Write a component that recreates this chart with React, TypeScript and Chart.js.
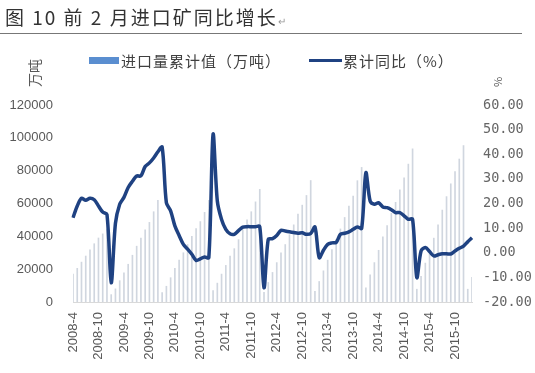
import React, { useEffect, useRef } from "react";
import { Chart, registerables } from "chart.js";

Chart.register(...registerables);

// Categories: monthly, 2008-4 .. 2016-2
const startYear = 2008;
const startMonth = 4;
const monthCount = 95;
const categories: string[] = [];
for (let i = 0; i < monthCount; i++) {
  const m = startMonth - 1 + i;
  categories.push(`${startYear + Math.floor(m / 12)}-${(m % 12) + 1}`);
}
const labelEvery = 6;

// 进口量累计值（万吨）
const importCum = [
  17000, 20500, 24300, 28000, 31800, 35500, 39000, 41500, 44400,
  4500, 8000, 13000, 17800, 23000, 28500, 34000, 39000, 44000, 48500, 55000, 62000,
  5800, 9600, 14800, 20500, 25500, 30000, 35000, 40000, 44700, 49000, 54600, 61900,
  6900, 11500, 17000, 22300, 28000, 32500, 38000, 44000, 50000, 55000, 61000, 68600,
  5900, 11900, 18000, 24000, 30000, 35000, 41000, 47000, 53500, 59000, 64900, 74000,
  6500, 12500, 19000, 25500, 32000, 38000, 44500, 51500, 58400, 64500, 73900, 82000,
  8600, 16500, 24000, 31500, 39700, 46600, 54000, 60700, 68300, 75600, 84000, 93300,
  7800, 15700, 23700, 31000, 38900, 47000, 56000, 64200, 72000, 79500, 87100, 95300,
  7800, 15100,
];

// 累计同比（%）
const yoyCum = [
  14.2, 19.0, 22.1, 21.3, 22.1, 21.5, 19.0, 16.5, 15.6,
  -12.2, 12.0, 19.7, 22.5, 26.5, 29.0, 31.2, 31.2, 35.0, 36.5, 38.5, 41.0,
  42.9, 20.3, 17.0, 10.9, 7.0, 3.4, 1.5, -0.6, -3.1, -2.5, -1.7, -2.0,
  48.1, 21.0, 13.5, 9.5, 7.7, 7.5, 9.0, 10.4, 10.6, 10.6, 10.6, 10.6,
  -14.2, 5.5, 5.7, 7.0, 9.1, 8.8, 8.5, 8.2, 7.9, 8.1, 7.5, 7.8,
  10.5, -2.0, 1.0, 3.4, 4.0, 4.2, 7.5, 7.9, 8.5, 9.5, 10.5, 9.9,
  32.5, 21.0, 19.7, 20.3, 18.6, 18.3, 17.5, 16.3, 16.3, 15.0, 13.6, 13.6,
  -10.1, 0.7, 2.1, 0.5, -1.3, -0.8, -0.4, -0.4, -0.5, 0.7, 1.8, 2.7, 4.5, 6.1,
];

const leftTicks = { min: 0, max: 120000, step: 20000 };
const rightTicks = { min: -20, max: 60, step: 10 };

const cjk = '"Noto Sans CJK SC", "Noto Sans", sans-serif';

export default function App() {
  const ref = useRef<HTMLCanvasElement | null>(null);

  useEffect(() => {
    document.body.style.margin = "0";
    if (!ref.current) return;
    const chart = new Chart(ref.current, {
      type: "bar",
      data: {
        labels: categories,
        datasets: [
          {
            type: "line",
            label: "累计同比（%）",
            data: yoyCum,
            yAxisID: "y1",
            borderColor: "#1f4282",
            borderWidth: 3.5,
            pointRadius: 0,
            tension: 0.3,
            order: 1,
          },
          {
            type: "bar",
            label: "进口量累计值（万吨）",
            data: importCum,
            yAxisID: "y",
            backgroundColor: "#d0d6df",
            barThickness: 1,
            order: 2,
          },
        ],
      },
      options: {
        responsive: false,
        animation: false,
        layout: { padding: { top: 105, left: 0, right: 0, bottom: 0 } },
        plugins: { legend: { display: false }, title: { display: false }, tooltip: { enabled: false } },
        scales: {
          x: {
            offset: false,
            grid: { display: false, drawTicks: false },
            border: { display: true, color: "#d9d9d9" },
            ticks: {
              autoSkip: false,
              minRotation: 90,
              maxRotation: 90,
              padding: 10,
              color: "#595959",
              font: { family: '"Liberation Sans", Arial, sans-serif', size: 13 },
              callback: (_v: any, i: number) => (i % labelEvery === 0 ? categories[i] : ""),
            },
            afterFit: (s: any) => {
              s.height = 71;
            },
          },
          y: {
            position: "left",
            min: leftTicks.min,
            max: leftTicks.max,
            grid: { display: false, drawTicks: false },
            border: { display: false },
            ticks: {
              stepSize: leftTicks.step,
              padding: 20,
              color: "#595959",
              font: { family: '"Liberation Sans", Arial, sans-serif', size: 13 },
              callback: (v: any) => String(v),
            },
            afterFit: (s: any) => {
              s.width = 73;
            },
          },
          y1: {
            position: "right",
            min: rightTicks.min,
            max: rightTicks.max,
            grid: { display: false, drawTicks: false },
            border: { display: false },
            ticks: {
              stepSize: rightTicks.step,
              padding: 11,
              color: "#666666",
              font: { family: '"DejaVu Sans Mono", monospace', size: 13.5 },
              callback: (v: any) => Number(v).toFixed(2),
            },
            afterFit: (s: any) => {
              s.width = 63;
            },
          },
        },
      },
    });
    return () => chart.destroy();
  }, []);

  return (
    <div style={{ position: "relative", width: 535, height: 373, background: "#fff", overflow: "hidden" }}>
      <canvas ref={ref} width={535} height={373} style={{ position: "absolute", left: 0, top: 0 }} />
      <div
        style={{
          position: "absolute",
          left: 5,
          top: 4,
          fontFamily: cjk,
          fontSize: 19,
          letterSpacing: 2,
          color: "#333",
          whiteSpace: "nowrap",
          lineHeight: "26px",
        }}
      >
        图 10 前 2 月进口矿同比增长
        <span style={{ fontSize: 10, color: "#999", letterSpacing: 0 }}>↵</span>
      </div>
      <div style={{ position: "absolute", left: 0, top: 33, width: 522, height: 1, background: "#777" }} />
      {/* legend */}
      <div style={{ position: "absolute", left: 89, top: 57, width: 30, height: 7, background: "#5a8ed0" }} />
      <div
        style={{
          position: "absolute",
          left: 121,
          top: 51,
          fontFamily: cjk,
          fontSize: 15,
          letterSpacing: 1,
          lineHeight: "20px",
          color: "#404040",
          whiteSpace: "nowrap",
        }}
      >
        进口量累计值（万吨）
      </div>
      <div style={{ position: "absolute", left: 309, top: 59, width: 33, height: 3, background: "#1f4282" }} />
      <div
        style={{
          position: "absolute",
          left: 343,
          top: 51,
          fontFamily: cjk,
          fontSize: 15,
          letterSpacing: 1,
          lineHeight: "20px",
          color: "#404040",
          whiteSpace: "nowrap",
        }}
      >
        累计同比（%）
      </div>
      {/* axis titles */}
      <div
        style={{
          position: "absolute",
          left: 34,
          top: 73,
          transform: "translate(-50%, -50%) rotate(-90deg)",
          fontFamily: cjk,
          fontSize: 14,
          lineHeight: "16px",
          color: "#595959",
          whiteSpace: "nowrap",
        }}
      >
        万吨
      </div>
      <div
        style={{
          position: "absolute",
          left: 497,
          top: 82,
          transform: "translate(-50%, -50%) rotate(-90deg)",
          fontFamily: cjk,
          fontSize: 11,
          lineHeight: "12px",
          color: "#595959",
          whiteSpace: "nowrap",
        }}
      >
        %
      </div>
    </div>
  );
}
